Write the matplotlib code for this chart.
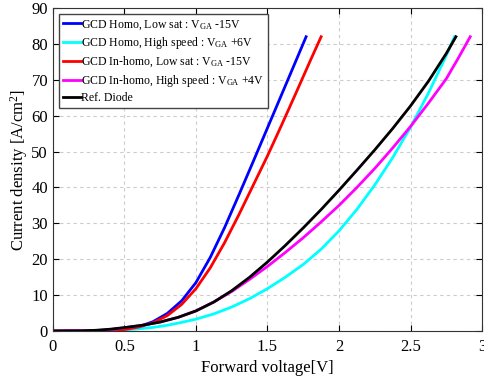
import matplotlib
matplotlib.use('Agg')
import matplotlib.pyplot as plt

plt.rcParams['font.family'] = ['Liberation Serif', 'DejaVu Serif']
plt.rcParams['mathtext.default'] = 'regular'

# GCD Homo, Low sat : VGA -15V
blue_v = [0, 0.3, 0.4, 0.5, 0.6, 0.7, 0.8, 0.9, 1.0, 1.1, 1.2, 1.3, 1.4, 1.5, 1.6, 1.7, 1.77]
blue_j = [0, 0.03, 0.15, 0.4, 1.2, 2.6, 4.9, 8.4, 13.5, 20.5, 28.8, 37.9, 47.2, 56.6, 66.0, 75.4, 82]
# GCD Homo, High speed : VGA +6V
cyan_v = [0, 0.3, 0.5, 0.6, 0.7, 0.8, 0.9, 1.0, 1.125, 1.25, 1.375, 1.5, 1.625, 1.75, 1.875,
          2.0, 2.125, 2.25, 2.375, 2.5, 2.625, 2.75, 2.807]
cyan_j = [0, 0.02, 0.3, 0.6, 1.0, 1.6, 2.4, 3.3, 4.77, 6.68, 9.02, 11.8, 15.0, 18.55, 22.8,
          27.9, 33.9, 40.7, 48.3, 56.8, 66.3, 76.8, 82]
# GCD In-homo, Low sat : VGA -15V
red_v = [0, 0.3, 0.4, 0.5, 0.6, 0.7, 0.8, 0.9, 1.0, 1.1, 1.2, 1.3, 1.4, 1.5, 1.6, 1.7, 1.8, 1.875]
red_j = [0, 0.03, 0.15, 0.4, 1.1, 2.3, 4.3, 7.4, 11.8, 17.6, 24.6, 32.4, 40.6, 48.8, 57.5, 66.4, 75.4, 82]
# GCD In-homo, High speed : VGA +4V
mag_v = [0, 0.3, 0.4, 0.5, 0.625, 0.75, 0.875, 1.0, 1.125, 1.25, 1.375, 1.5, 1.625, 1.75, 1.875,
         2.0, 2.125, 2.25, 2.375, 2.5, 2.625, 2.75, 2.833, 2.917]
mag_j = [0, 0.1, 0.4, 0.9, 1.6, 2.5, 3.8, 5.6, 8.1, 11.0, 14.4, 18.0, 21.9, 26.0, 30.4,
         35.0, 40.0, 45.3, 51.0, 57.0, 63.5, 70.3, 76.0, 82]
# Ref. Diode
blk_v = [0, 0.2, 0.3, 0.4, 0.5, 0.625, 0.75, 0.875, 1.0, 1.125, 1.25, 1.375, 1.5, 1.625, 1.75,
         1.875, 2.0, 2.125, 2.25, 2.375, 2.5, 2.625, 2.75, 2.817]
blk_j = [0, 0.05, 0.2, 0.5, 0.95, 1.6, 2.5, 3.8, 5.6, 8.07, 11.23, 14.98, 19.23, 23.85, 28.73,
         33.85, 39.23, 44.79, 50.48, 56.42, 62.73, 69.6, 77.35, 82]

labels = ['GCD Homo, Low sat : V$_{GA}$ -15V',
          'GCD Homo, High speed : V$_{GA}$ +6V',
          'GCD In-homo, Low sat : V$_{GA}$ -15V',
          'GCD In-homo, High speed : V$_{GA}$ +4V',
          'Ref. Diode']

fig = plt.figure(figsize=(4.85, 3.82), dpi=100)
ax = fig.add_axes([0.109, 0.1335, 0.885, 0.8455])

ax.plot(blue_v, blue_j, color='#0000ff', lw=2, label=labels[0])
ax.plot(cyan_v, cyan_j, color='#00ffff', lw=2, label=labels[1])
ax.plot(red_v, red_j, color='#ff0000', lw=2, label=labels[2])
ax.plot(mag_v, mag_j, color='#ff00ff', lw=2, label=labels[3])
ax.plot(blk_v, blk_j, color='black', lw=2, label=labels[4])

ax.set_xlim(0, 3)
ax.set_ylim(0, 90)
ax.set_xticks([0, 0.5, 1, 1.5, 2, 2.5, 3])
ax.set_xticklabels(['0', '0.5', '1', '1.5', '2', '2.5', '3'])
ax.set_yticks(range(0, 91, 10))
ax.tick_params(direction='in', top=True, right=True, labelsize=12, length=4)
ax.tick_params(axis='x', pad=6)
ax.grid(True, ls=(0, (3, 3)), color='#cccccc', lw=0.8)
for s in ax.spines.values():
    s.set_color('#333333')
ax.set_xlabel('Forward voltage[V]', fontsize=12, labelpad=3)
ax.set_ylabel('Current density [A/cm$^2$]', fontsize=12, labelpad=1)

leg = ax.legend(loc='upper left', fontsize=8.5, handlelength=1.5, handletextpad=0.0,
                labelspacing=0.3, borderpad=0.35, borderaxespad=0.5, fancybox=False,
                framealpha=1)
leg.get_frame().set_edgecolor('#444444')
leg.get_frame().set_linewidth(1)

fig.savefig('out.png', dpi=100)
